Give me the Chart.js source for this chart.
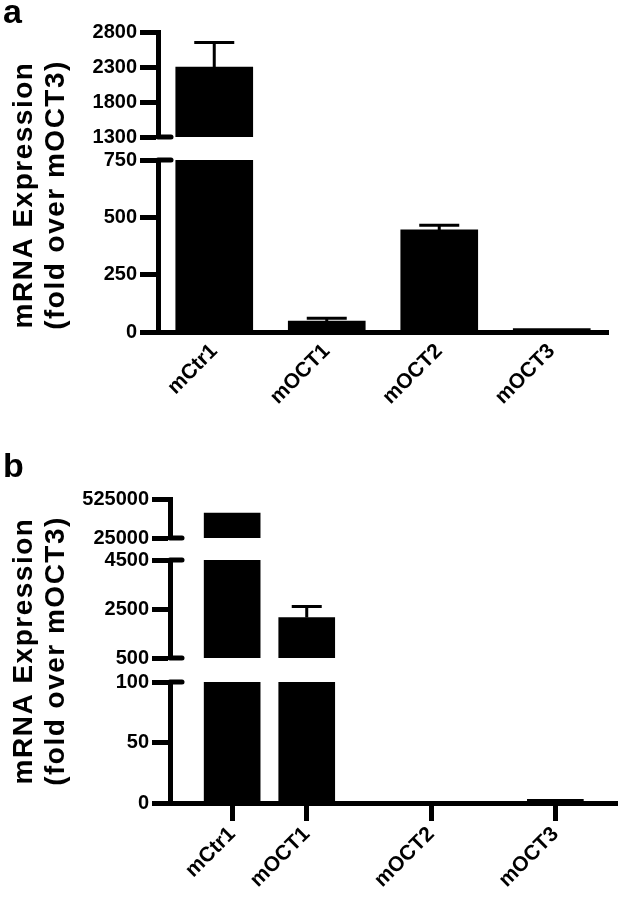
<!DOCTYPE html>
<html>
<head>
<meta charset="utf-8">
<title>mRNA expression</title>
<script src="https://cdn.jsdelivr.net/npm/chart.js@4.4.1/dist/chart.umd.min.js"></script>
<style>
  html, body { margin: 0; padding: 0; background: #fff; }
  .panel { position: relative; width: 624px; height: 450px; }
  .panel canvas { display: block; }
  .tag { position: absolute; left: 3px; font: bold 34px 'Liberation Sans', Arial, sans-serif; color: #000; }
</style>
</head>
<body>
<div class="panel"><canvas id="chartA" width="624" height="450"></canvas><div class="tag" style="top:-8px">a</div></div>
<div class="panel"><canvas id="chartB" width="624" height="450"></canvas><div class="tag" style="top:-4px">b</div></div>
<script>
// panel a
const catsA = ['mCtr1', 'mOCT1', 'mOCT2', 'mOCT3'];
const meanA = [2300, 48, 445, 15];
const semA = [350, 12, 20, 0];
const rangesA = [[0, 750], [1300, 2800]];        // y segments, bottom to top
const stepsA = [250, 500];

// panel b
const catsB = ['mCtr1', 'mOCT1', 'mOCT2', 'mOCT3'];
const meanB = [345000, 2150, 0.5, 3];
const semB = [0, 450, 0, 0];
const rangesB = [[0, 100], [500, 4500], [25000, 525000]];
const stepsB = [50, 2000, 500000];

const yTitle = ['mRNA Expression', '(fold over mOCT3)'];

const FONT = "'Liberation Sans', Arial, sans-serif";
Chart.defaults.font.family = FONT;
Chart.defaults.color = '#000';

// error bars (upper half only, like prism)
function errorBars(p) {
    return {
        id: 'errorBars',
        afterDatasetsDraw(chart) {
            const ctx = chart.ctx, xs = chart.scales.x;
            ctx.save();
            ctx.strokeStyle = '#000';
            ctx.lineWidth = 3;
            p.mean.forEach((v, i) => {
                if (!p.sem[i]) return;
                const k = p.ranges.findIndex(([lo, hi]) => v > lo && v <= hi);
                const ys = chart.scales['y' + k];
                const x = xs.getPixelForValue(p.pos[i]);
                const y0 = ys.getPixelForValue(v);
                const y1 = ys.getPixelForValue(v + p.sem[i]);
                ctx.beginPath();
                ctx.moveTo(x, y0); ctx.lineTo(x, y1);
                ctx.moveTo(x - p.capW / 2, y1); ctx.lineTo(x + p.capW / 2, y1);
                ctx.stroke();
            });
            ctx.restore();
        }
    };
}

// little stubs to the right of the axis where it is broken
function breakMarks(p) {
    return {
        id: 'breakMarks',
        afterDraw(chart) {
            const ctx = chart.ctx, n = p.ranges.length;
            ctx.save();
            ctx.strokeStyle = '#000';
            ctx.lineWidth = 5;
            ctx.lineCap = 'round';
            for (let k = 0; k < n; k++) {
                const s = chart.scales['y' + k];
                const ends = [];
                if (k > 0) ends.push(s.getPixelForValue(s.min));
                if (k < n - 1) ends.push(s.getPixelForValue(s.max));
                ends.forEach(y => {
                    ctx.beginPath();
                    ctx.moveTo(s.right, y);
                    ctx.lineTo(s.right + p.stub, y);
                    ctx.stroke();
                });
            }
            ctx.restore();
        }
    };
}

// y title centred on the whole stack of segments
function axisTitle(p) {
    return {
        id: 'axisTitle',
        afterDraw(chart) {
            const ctx = chart.ctx, a = chart.chartArea;
            const cy = (a.top + a.bottom) / 2 + p.titleShift;
            ctx.save();
            ctx.fillStyle = '#000';
            ctx.font = 'bold 28px ' + FONT;
            ctx.letterSpacing = '1.5px';
            ctx.textAlign = 'center';
            yTitle.forEach((t, j) => {
                ctx.save();
                ctx.translate(p.titleX[j], cy);
                ctx.rotate(-Math.PI / 2);
                ctx.fillText(t, 0, 0);
                ctx.restore();
            });
            ctx.restore();
        }
    };
}

function brokenBars(id, p) {
    const n = p.ranges.length;
    const labels = new Array(p.slots).fill('');
    p.cats.forEach((c, i) => { labels[p.pos[i]] = c; });

    const datasets = p.ranges.map(([lo, hi], k) => {
        const data = new Array(p.slots).fill(null);
        p.mean.forEach((v, i) => { if (v > lo) data[p.pos[i]] = [lo, Math.min(v, hi)]; });
        return {
            data: data,
            yAxisID: 'y' + k,
            grouped: false,
            backgroundColor: '#000',
            borderWidth: 0,
            barThickness: p.barW
        };
    });

    const tickFont = { size: 20, weight: 'bold' };
    const scales = {
        x: {
            type: 'category',
            labels: labels,
            offset: true,
            afterFit: s => { s.height = p.xH; },
            border: { color: '#000', width: 5 },
            grid: {
                display: p.xTicks, offset: false, drawOnChartArea: false, drawTicks: p.xTicks,
                tickLength: 18, tickWidth: 5,
                tickColor: c => (c.tick && c.tick.label) ? '#000' : 'rgba(0,0,0,0)'
            },
            ticks: { autoSkip: false, minRotation: 45, maxRotation: 45, padding: p.xPad, color: '#000', font: { size: 21, weight: 'bold' } }
        }
    };
    p.ranges.forEach(([lo, hi], k) => {
        scales['y' + k] = {
            type: 'linear',
            position: 'left',
            stack: 'left',
            stackWeight: p.segPx[k],
            min: lo,
            max: hi,
            afterFit: s => { s.width = p.axisX; },
            border: { color: '#000', width: 5 },
            grid: { drawOnChartArea: false, tickLength: 18, tickWidth: 5, tickColor: '#000' },
            ticks: {
                stepSize: p.steps[k], autoSkip: false, padding: 3, color: '#000', font: tickFont,
                callback: v => String(v)
            }
        };
        if (k < n - 1) {
            scales['gap' + k] = {
                type: 'linear',
                position: 'left',
                stack: 'left',
                stackWeight: p.gapPx[k],
                afterFit: s => { s.width = p.axisX; },
                border: { display: false },
                grid: { display: false },
                ticks: { display: false }
            };
        }
    });

    return new Chart(document.getElementById(id), {
        type: 'bar',
        data: { labels: labels, datasets: datasets },
        options: {
            responsive: false,
            animation: false,
            devicePixelRatio: 1,
            events: [],
            layout: { padding: { top: p.padTop, right: p.padRight, left: 0, bottom: 0 } },
            plugins: { legend: { display: false }, tooltip: { enabled: false } },
            scales: scales
        },
        plugins: [errorBars(p), breakMarks(p), axisTitle(p)]
    });
}

brokenBars('chartA', {
    cats: catsA, mean: meanA, sem: semA, ranges: rangesA, steps: stepsA,
    slots: 4, pos: [0, 1, 2, 3],
    segPx: [172, 105], gapPx: [23],
    axisX: 158, padTop: 32, padRight: 16, xH: 118,
    barW: 77, capW: 40, stub: 13,
    xTicks: false, xPad: 7,
    titleX: [32, 64], titleShift: 13
});

brokenBars('chartB', {
    cats: catsB, mean: meanB, sem: semB, ranges: rangesB, steps: stepsB,
    slots: 18, pos: [2, 5, 10, 15],
    segPx: [121, 98, 39], gapPx: [24, 22],
    axisX: 170, padTop: 49, padRight: 4, xH: 97,
    barW: 56, capW: 30, stub: 12,
    xTicks: true, xPad: 1,
    titleX: [32, 64], titleShift: 0
});
</script>
</body>
</html>
